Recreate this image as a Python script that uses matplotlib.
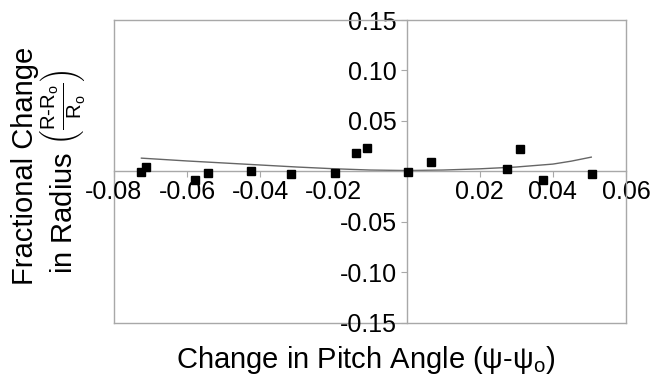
import numpy as np
import matplotlib
matplotlib.use("Agg")
import matplotlib.pyplot as plt
from matplotlib.ticker import FixedLocator, FuncFormatter

# measured points: change in pitch angle vs fractional change in radius
pitch_change = [-0.0727, -0.0713, -0.0578, -0.0542, -0.0425, -0.0315, -0.0196,
                -0.0139, -0.0109, 0.0005, 0.0067, 0.0275, 0.0311, 0.0373, 0.0506]
radius_change = [-0.0007, 0.0043, -0.0090, -0.0017, 0.0003, -0.0027, -0.0017,
                 0.0182, 0.0235, -0.0007, 0.0093, 0.0027, 0.0218, -0.0090, -0.0027]

# trend line
trend_x = [-0.0725, -0.06, -0.05, -0.04, -0.03, -0.02, -0.01, 0.0,
           0.01, 0.02, 0.03, 0.04, 0.045, 0.0505]
trend_y = [0.0130, 0.0102, 0.0082, 0.0062, 0.0042, 0.0025, 0.0012, 0.0007,
           0.0012, 0.0024, 0.0042, 0.0071, 0.0100, 0.0140]

x_ticks = [-0.08, -0.06, -0.04, -0.02, 0.0, 0.02, 0.04, 0.06]
y_ticks = [-0.15, -0.10, -0.05, 0.0, 0.05, 0.10, 0.15]

plt.rcParams['font.family'] = ['Liberation Sans', 'DejaVu Sans']
plt.rcParams['axes.unicode_minus'] = False
plt.rcParams['mathtext.fontset'] = 'custom'
plt.rcParams['mathtext.rm'] = 'Liberation Sans'
plt.rcParams['mathtext.it'] = 'Liberation Sans:italic'
plt.rcParams['mathtext.bf'] = 'Liberation Sans:bold'
plt.rcParams['mathtext.sf'] = 'Liberation Sans'

grey = '#a8a8a8'

fig = plt.figure(figsize=(6.52, 3.77), dpi=100)
ax = fig.add_axes([114 / 652, 1 - 322.5 / 377, 512 / 652, 302.5 / 377])

ax.plot(trend_x, trend_y, color='#666666', lw=1.0, zorder=2)
ax.plot(pitch_change, radius_change, 's', color='black', ms=6, zorder=3)

ax.set_xlim(-0.08, 0.06)
ax.set_ylim(-0.15, 0.15)

# center axes through zero, grey frame around the box
ax.spines['left'].set_position(('data', 0))
ax.spines['bottom'].set_position(('data', 0))
for s in ax.spines.values():
    s.set_color(grey)
    s.set_linewidth(1.0)
ax.plot([-0.08, -0.08], [-0.15, 0.15], color=grey, lw=1.0, clip_on=False, zorder=1)
ax.plot([-0.08, 0.06], [-0.15, -0.15], color=grey, lw=1.0, clip_on=False, zorder=1)

ax.xaxis.set_major_locator(FixedLocator(x_ticks))
ax.yaxis.set_major_locator(FixedLocator(y_ticks))
fmt = FuncFormatter(lambda v, p: '' if abs(v) < 1e-9 else '%.2f' % v)
ax.xaxis.set_major_formatter(fmt)
ax.yaxis.set_major_formatter(fmt)
ax.tick_params(axis='x', direction='out', length=4, color=grey, labelsize=18, pad=2)
ax.tick_params(axis='y', direction='out', length=4, color=grey, labelsize=18, pad=3)
ax.xaxis.set_ticks_position('bottom')
ax.yaxis.set_ticks_position('left')

fig.text(366 / 652, 1 - 368 / 377, r'Change in Pitch Angle (ψ-ψ$_\mathregular{o}$)',
         ha='center', va='baseline', fontsize=21)
fig.text(25 / 652, 1 - 166 / 377, 'Fractional Change', rotation=90,
         ha='center', va='center', fontsize=21)
fig.text(63 / 652, 1 - 172 / 377,
         r'in Radius $\left(\frac{\text{R-R}_\text{o}}{\text{R}_\text{o}}\right)$',
         rotation=90, ha='center', va='center', fontsize=21)

fig.savefig('out.png', dpi=100)
